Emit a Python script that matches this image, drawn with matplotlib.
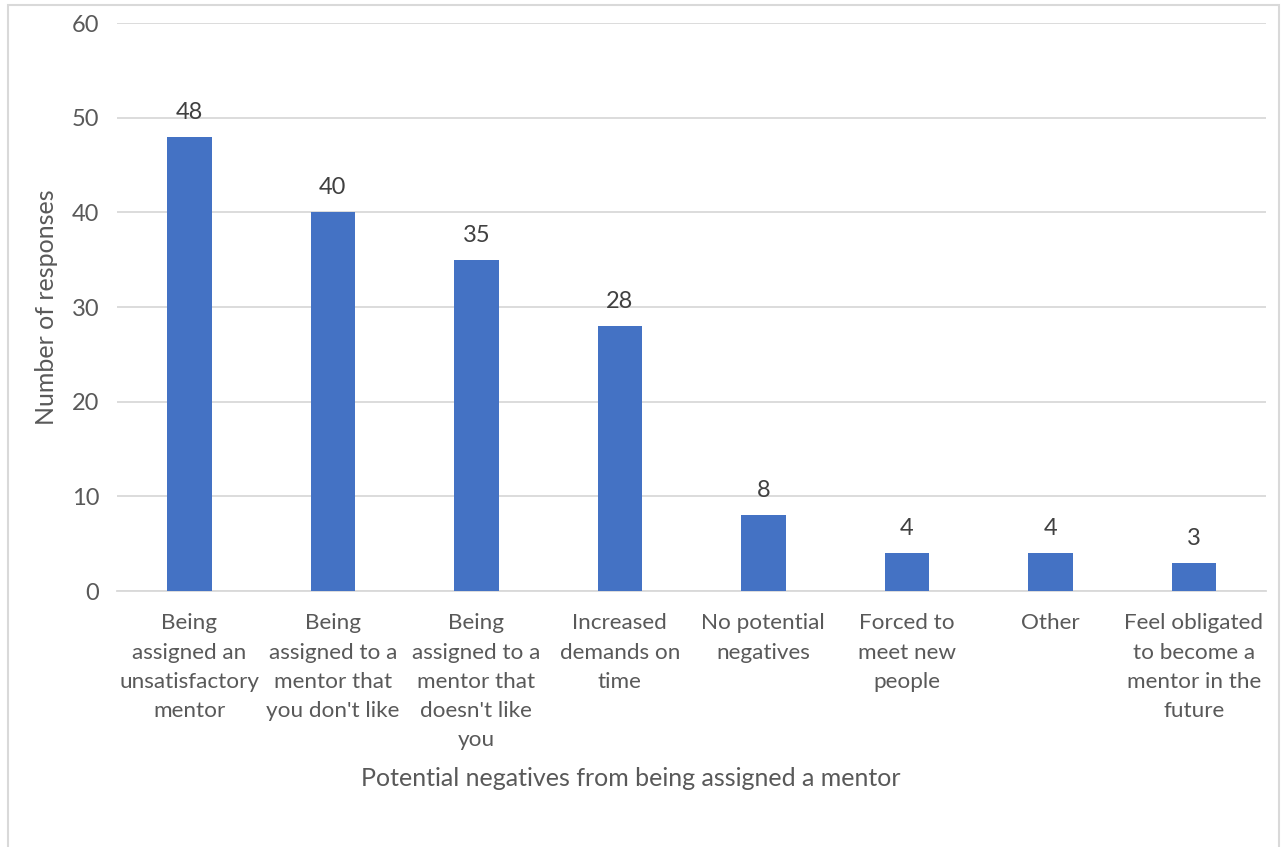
import matplotlib.pyplot as plt
import matplotlib.patches as patches
import numpy as np

plt.rcParams['font.family'] = ['Lato', 'DejaVu Sans']

categories = [
    "Being\nassigned an\nunsatisfactory\nmentor",
    "Being\nassigned to a\nmentor that\nyou don't like",
    "Being\nassigned to a\nmentor that\ndoesn't like\nyou",
    "Increased\ndemands on\ntime",
    "No potential\nnegatives",
    "Forced to\nmeet new\npeople",
    "Other",
    "Feel obligated\nto become a\nmentor in the\nfuture",
]
responses = [48, 40, 35, 28, 8, 4, 4, 3]
yticks = [0, 10, 20, 30, 40, 50, 60]

text_color = '#595959'
bar_color = '#4472C4'
grid_color = '#D9D9D9'

fig = plt.figure(figsize=(12.85, 8.47), dpi=100)
ax = fig.add_axes([117.5 / 1285, 1 - 591 / 847, (1265.7 - 117.5) / 1285, (591 - 23) / 847])

x = np.arange(len(categories))
bars = ax.bar(x, responses, width=0.31, color=bar_color, zorder=3)

for rect, val in zip(bars, responses):
    ax.annotate(str(val), (rect.get_x() + rect.get_width() / 2, rect.get_height()),
                xytext=(0, 10), textcoords='offset points', ha='center', va='bottom',
                fontsize=17, color='#404040')

ax.set_xlim(-0.5, len(categories) - 0.5)
ax.set_ylim(0, 60)
ax.set_yticks(yticks)
ax.yaxis.grid(True, color=grid_color, linewidth=1.3, zorder=0)
ax.set_xticks(x)
ax.set_xticklabels(categories, fontsize=16.2, color=text_color, linespacing=1.58)
ax.tick_params(axis='y', labelsize=17)
ax.tick_params(axis='both', length=0, labelcolor=text_color)
ax.tick_params(axis='x', pad=16)
ax.tick_params(axis='y', pad=13)

for side in ['top', 'right', 'left']:
    ax.spines[side].set_visible(False)
ax.spines['bottom'].set_color(grid_color)
ax.spines['bottom'].set_linewidth(1.3)

ax.set_ylabel("Number of responses", fontsize=18, color=text_color, labelpad=10)
fig.text(631 / 1285, 1 - 778 / 847, "Potential negatives from being assigned a mentor",
         ha='center', va='center', fontsize=18, color=text_color)

# chart frame
frame = patches.Rectangle((8 / 1285, -0.05), (1279 - 8) / 1285, (847 - 5) / 847 + 0.05,
                          transform=fig.transFigure, fill=False, edgecolor='#D9D9D9',
                          linewidth=1.5)
fig.patches.append(frame)

fig.savefig('out.png', dpi=100)
